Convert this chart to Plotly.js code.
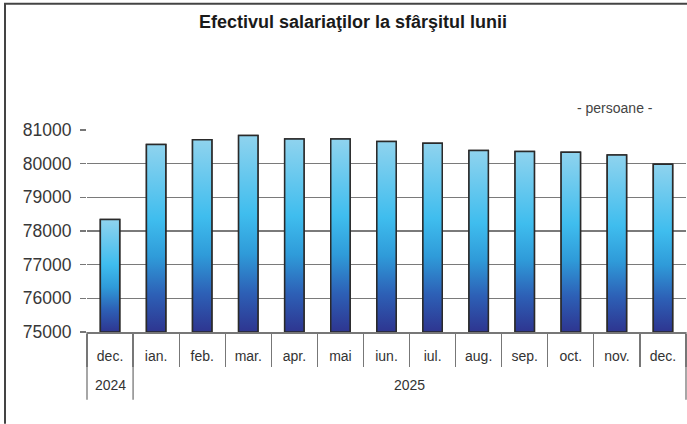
<!DOCTYPE html>
<html>
<head>
<meta charset="utf-8">
<script src="https://cdn.plot.ly/plotly-3.0.1.min.js"></script>
<style>html,body{margin:0;padding:0;background:#fff;}#chart{width:687px;height:424px;}</style>
</head>
<body>
<div id="chart"></div>
<script>
const years = ["2024","2025","2025","2025","2025","2025","2025","2025","2025","2025","2025","2025","2025"];
const months = ["dec.","ian.","feb.","mar.","apr.","mai","iun.","iul.","aug.","sep.","oct.","nov.","dec."];
const employees = [78340, 80570, 80710, 80840, 80730, 80730, 80660, 80610, 80390, 80360, 80340, 80260, 79985];
const yTicks = [75000, 76000, 77000, 78000, 79000, 80000, 81000];

const W = 687, H = 424, L = 87, R = 1, T = 129.5, B = 92;
const pw = W - L - R, ph = H - T - B;
const px = v => (v - L) / pw;
const py = v => (H - B - v) / ph;

const yMin = yTicks[0], yMax = yTicks[yTicks.length - 1];
const idx = months.map((m, i) => i);
const n = months.length;
const half = 0.21;
const gradScale = [[0, '#2e3590'], [0.2, '#2d60b6'], [0.4, '#2f9bd9'], [0.6, '#3fbdee'], [1, '#8fd3ee']];

const traces = [{
  type: 'bar',
  x: idx,
  y: employees,
  width: half * 2,
  marker: { color: '#3aaee0', line: { color: '#2a2a2a', width: 1.5 } },
  hoverinfo: 'skip'
}];

employees.forEach((v, i) => {
  traces.push({
    type: 'scatter',
    mode: 'lines',
    x: [i - half, i + half, i + half, i - half, i - half],
    y: [yMin, yMin, v, v, yMin],
    fill: 'toself',
    fillgradient: { type: 'vertical', colorscale: gradScale, start: yMin, stop: v },
    line: { color: '#2a2a2a', width: 1.5 },
    hoverinfo: 'skip'
  });
});

// year groups (label centre and boundaries) derived from the years array
const groups = [];
years.forEach((y, i) => {
  const g = groups[groups.length - 1];
  if (g && g.year === y) g.end = i; else groups.push({ year: y, start: i, end: i });
});
const bounds = [-0.5].concat(groups.map(g => g.end + 0.5));
const xPaper = v => (v + 0.5) / n;

const layout = {
  width: W, height: H,
  margin: { l: L, r: R, t: T, b: B, pad: 0, autoexpand: false },
  paper_bgcolor: '#ffffff', plot_bgcolor: '#ffffff',
  font: { family: 'Liberation Sans, Arial, sans-serif', color: '#333' },
  showlegend: false,
  title: {
    text: '<b>Efectivul salariaţilor la sfârşitul lunii</b>',
    font: { size: 18, color: '#1a1a1a', family: 'Liberation Sans, Arial, sans-serif' },
    x: 353 / W, xanchor: 'center', xref: 'container',
    y: 1 - 22 / H, yanchor: 'middle', yref: 'container',
    automargin: false
  },
  xaxis: {
    range: [-0.5, n - 0.5],
    tickmode: 'array', tickvals: idx, ticktext: months,
    ticks: '', ticklabelstandoff: 11,
    minor: { tick0: -0.5, dtick: 1, ticks: 'outside', ticklen: 33, tickcolor: '#777', tickwidth: 1.3, showgrid: false },
    showline: true, linecolor: '#777', linewidth: 1.5,
    showgrid: false, zeroline: false,
    automargin: false,
    tickfont: { size: 14, color: '#333' }
  },
  yaxis: {
    range: [yMin, yMax],
    tickvals: yTicks,
    ticktext: yTicks.map(String),
    ticks: 'outside', ticklen: 6, tickcolor: '#777', tickwidth: 1.5,
    ticklabelstandoff: 5,
    showgrid: true, gridcolor: '#7a7a7a', gridwidth: 1.5,
    showline: false, zeroline: false,
    automargin: false,
    tickfont: { size: 17.5, color: '#383838' }
  },
  annotations: [{
    text: '- persoane -', xref: 'paper', yref: 'paper',
    x: px(615), y: py(107), xanchor: 'center', yanchor: 'middle',
    showarrow: false, font: { size: 14, color: '#444' }
  }].concat(groups.map(g => ({
    text: g.year, xref: 'paper', yref: 'paper',
    x: xPaper((g.start + g.end) / 2), y: py(385), xanchor: 'center', yanchor: 'middle',
    showarrow: false, font: { size: 14, color: '#333' }
  }))),
  shapes: [
    { type: 'line', xref: 'paper', yref: 'paper', x0: px(4), x1: px(687), y0: py(3), y1: py(3), line: { color: '#444', width: 2 } },
    { type: 'line', xref: 'paper', yref: 'paper', x0: px(5), x1: px(5), y0: py(3), y1: py(424), line: { color: '#444', width: 2 } }
  ].concat(bounds.map(b => ({
    type: 'line', xref: 'paper', yref: 'paper',
    x0: xPaper(b), x1: xPaper(b), y0: py(332), y1: py(400),
    line: { color: '#777', width: 1.3 }
  })))
};

Plotly.newPlot('chart', traces, layout, { staticPlot: true, displayModeBar: false });
</script>
</body>
</html>
